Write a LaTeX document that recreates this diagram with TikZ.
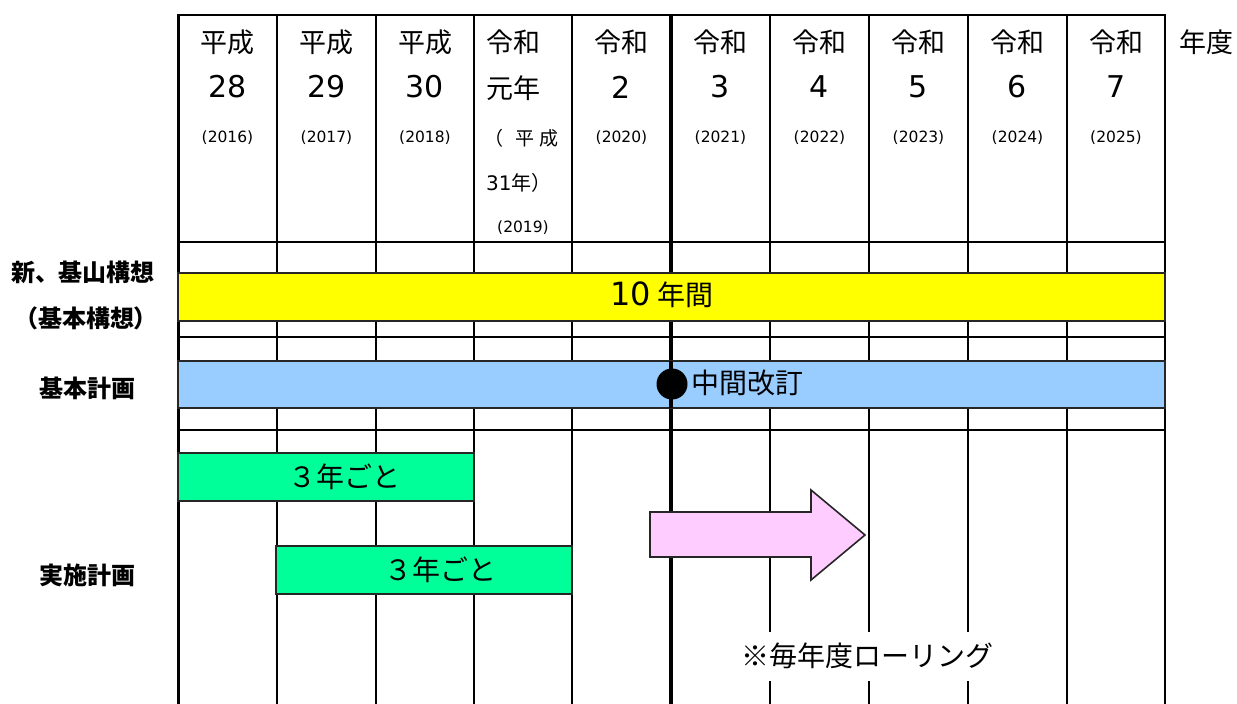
\documentclass[tikz,border=0pt]{standalone}
\usepackage{fontspec}
\setmainfont{Noto Sans CJK JP}
\newfontfamily\lat{DejaVu Sans}
\definecolor{barYellow}{HTML}{FFFF00}
\definecolor{barBlue}{HTML}{99CCFF}
\definecolor{barGreen}{HTML}{00FF99}
\definecolor{barPink}{HTML}{FFCCFF}
\begin{document}
\begin{tikzpicture}[x=1pt,y=-1pt,
  gridline/.style={line width=2.4pt,line cap=rect},
  thickgrid/.style={line width=4pt},
  barbox/.style={draw=black!85,line width=1.4pt},
  hdr/.style={font=\fontsize{27}{30}\selectfont, inner sep=0},
  num/.style={font=\lat\fontsize{30}{32}\selectfont, inner sep=0},
  yr/.style={font=\lat\fontsize{15.5}{17}\selectfont, inner sep=0},
  sub/.style={font=\fontsize{20}{22}\selectfont, inner sep=0, anchor=west},
  lab/.style={font=\bfseries\fontsize{24}{26}\selectfont, inner sep=0},
  bartxt/.style={font=\fontsize{28}{30}\selectfont, inner sep=0},
]
\useasboundingbox (0,0) rectangle (1237,704);
\fill[white] (0,0) rectangle (1237,704);

% grid
\foreach \x in {277,376,474,572,770,869,968,1067,1165}
  \draw[gridline] (\x,15) -- (\x,704);
\draw[gridline,line width=3pt] (178,15) -- (178,704);
\draw[thickgrid] (671,15) -- (671,704);
\foreach \yy in {15,242,337,430}
  \draw[gridline] (178,\yy) -- (1165,\yy);

% header
\foreach \x/\e/\n/\g [count=\i] in {227.5/平成/28/2016, 326.5/平成/29/2017, 425/平成/30/2018,
  621.5/令和/2/2020, 720.5/令和/3/2021, 819.5/令和/4/2022, 918.5/令和/5/2023,
  1017.5/令和/6/2024, 1116/令和/7/2025} {
  \node[hdr] (era\i) at (\x,42) {\e};
  \node[num] (num\i) at (\x,87) {\n};
  \node[yr] (yr\i) at (\x,138) {(\g)};
}
\node[hdr,anchor=west] (eraR) at (486,42) {令和};
\node[hdr,anchor=west] (numR) at (486,88) {元年};
\node[sub,font=\fontsize{19}{21}\selectfont] (subRa) at (484,138) {（\hspace{12pt}平\hspace{5pt}成};
\node[sub] (subRb) at (486,183) {{\lat 31}年）};
\node[yr] (yrR) at (523,228) {(2019)};
\node[hdr] (nendo) at (1206,42) {年度};

% row labels
\node[lab] (lab1) at (83,272) {新、基山構想};
\node[lab] (lab2) at (86,318) {（基本構想）};
\node[lab] (lab3) at (87.5,388) {基本計画};
\node[lab] (lab4) at (87.5,575) {実施計画};

% basic concept bar
\draw[barbox,fill=barYellow] (178,273) rectangle (1165,321);
\node[bartxt] (ten) at (662,295) {{\lat\fontsize{32}{34}\selectfont 10}\hspace{7pt}年間};

% basic plan bar
\draw[barbox,fill=barBlue] (178,361) rectangle (1165,408);
\draw[thickgrid] (671,361) -- (671,408);
\node[circle,fill=black,inner sep=0,minimum size=31] (mid) at (672,384) {};
\node[bartxt,anchor=west] (revision) at (691,383) {中間改訂};

% implementation plan bars
\draw[barbox,fill=barGreen] (178,453) rectangle (474,501);
\node[bartxt] (three1) at (344,477) {３年ごと};
\draw[barbox,fill=barGreen] (276,546) rectangle (572,594);
\node[bartxt] (three2) at (440,570) {３年ごと};

% rolling arrow
\draw[barbox,line width=1.6pt,fill=barPink] (650,512) -- (811,512) -- (811,490) -- (865,535)
  -- (811,580) -- (811,557) -- (650,557) -- cycle;

\node[bartxt,fill=white,inner xsep=4pt,minimum height=49] (rolling) at (867,656) {※毎年度ローリング};
\end{tikzpicture}
\end{document}
